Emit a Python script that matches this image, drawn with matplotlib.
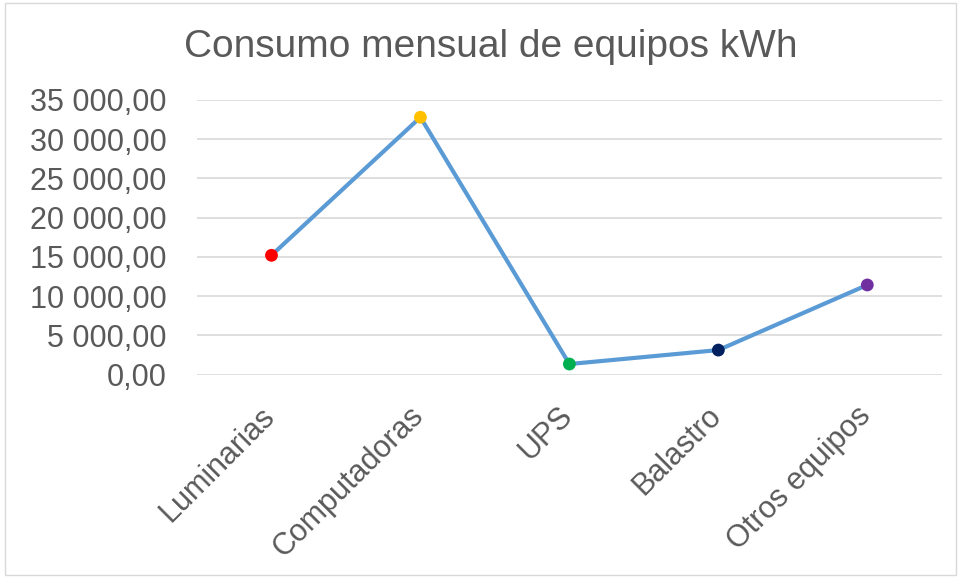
import matplotlib.pyplot as plt
from matplotlib.patches import Rectangle
from matplotlib.ticker import FuncFormatter
from matplotlib.transforms import ScaledTranslation

equipos = ["Luminarias", "Computadoras", "UPS", "Balastro", "Otros equipos"]
consumo_kwh = [15200, 32800, 1340, 3120, 11420]
colores = ["#FF0000", "#FFC000", "#00B050", "#002060", "#7030A0"]

gris = "#595959"
plt.rcParams["font.family"] = ["Liberation Sans", "DejaVu Sans"]

fig = plt.figure(figsize=(9.61, 5.78), dpi=100)
ax = fig.add_axes([0.205, 0.352, 0.775, 0.475])

x = range(len(equipos))
ax.plot(x, consumo_kwh, color="#5B9BD5", linewidth=3, zorder=2)
ax.scatter(x, consumo_kwh, c=colores, s=85, zorder=3, edgecolors="none")

ax.set_xlim(-0.5, len(equipos) - 0.5)
ax.set_ylim(0, 35000)
ax.set_yticks(range(0, 35001, 5000))


def fmt(v, pos):
    return f"{v:,.2f}".replace(",", " ").replace(".", ",")


ax.yaxis.set_major_formatter(FuncFormatter(fmt))
ax.grid(axis="y", color="#D9D9D9", linewidth=1.2)
ax.set_axisbelow(True)
for s in ax.spines.values():
    s.set_visible(False)
ax.tick_params(axis="both", length=0, labelsize=22, labelcolor=gris)
ax.tick_params(axis="y", pad=22)

ax.set_xticks(list(x))
ax.set_xticklabels(equipos, rotation=45, ha="right", rotation_mode="anchor")
ax.tick_params(axis="x", pad=24)
# nudge rotated labels so their ends sit under the category
desplazamiento = ScaledTranslation(-0.12, 0.07, fig.dpi_scale_trans)
for lbl in ax.get_xticklabels():
    lbl.set_transform(lbl.get_transform() + desplazamiento)

fig.text(0.511, 0.919, "Consumo mensual de equipos kWh", ha="center", va="center",
         fontsize=28, color=gris)

fig.patches.append(Rectangle((0.005, 0.005), 0.99, 0.99, transform=fig.transFigure,
                             fill=False, edgecolor="#D9D9D9", linewidth=1))

fig.savefig("out.png", dpi=100)
